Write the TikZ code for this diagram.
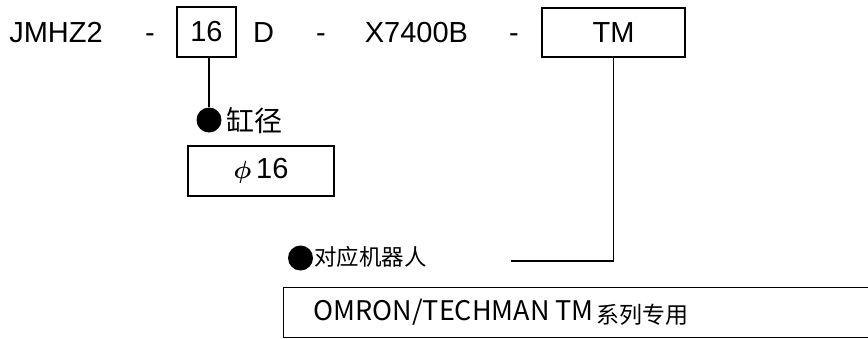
\documentclass[tikz,border=0pt]{standalone}
\usepackage{amsmath}
\usepackage{fontspec}
\setmainfont{Liberation Sans}
\newfontfamily\cjk{Noto Sans CJK SC}
\usetikzlibrary{positioning}
\tikzset{>=stealth}

\begin{document}
\begin{tikzpicture}[x=1pt,y=-1pt,
  code/.style={anchor=base,font=\fontsize{29}{32}\selectfont},
  codebox/.style={draw,line width=1.2pt,inner sep=0pt,font=\fontsize{29}{32}\selectfont},
  dot/.style={circle,fill=black,inner sep=0pt,minimum size=25pt},
  lbl/.style={anchor=west,inner sep=0pt,font=\cjk\fontsize{#1}{#1}\selectfont}]
\useasboundingbox (0,0) rectangle (868,338);
% model code
\node[code] (jm) at (56,42) {JMHZ2};
\foreach \x/\n in {150/d1,321/d2,514/d3}
\node[code] (\n) at (\x,42) {-};
\node[codebox,minimum width=59pt,minimum height=50pt] (bore) at (206.5,32) {16};
\node[code] (dd) at (263.5,42) {D};
\node[code] (xx) at (416.5,42) {X7400B};
\node[codebox,minimum width=143pt,minimum height=49pt] (robot) at (613.5,32.5) {TM};
% bore
\node[dot] (dot1) at (209,120) {};
\node[lbl=28] (borelbl) at (226,121) {缸径};
\node[codebox,minimum width=146pt,minimum height=50pt] (phibox) at (261,171) {$\boldsymbol{\phi}$\,16};
\draw[line width=1.2pt] (bore.south -| dot1) -- (dot1);
% robot
\node[dot] (dot2) at (300.5,258) {};
\node[lbl=22.5] (robotlbl) at (314,257) {对应机器人};
\coordinate (lend) at (511,261);
\draw[line width=1.2pt] (robot) |- (lend);
\node[draw,line width=1.2pt,anchor=north west,minimum height=50pt,inner ysep=0pt,
  inner xsep=0pt,text width=620pt,align=left] (series) at (283,287)
  {\hspace*{30pt}{\cjk\fontsize{27}{30}\selectfont OMRON/TECHMAN\hspace{6pt}TM}\hspace{3pt}{\cjk\fontsize{23}{26}\selectfont\raisebox{-3pt}{系列专用}}};
\end{tikzpicture}
\end{document}
